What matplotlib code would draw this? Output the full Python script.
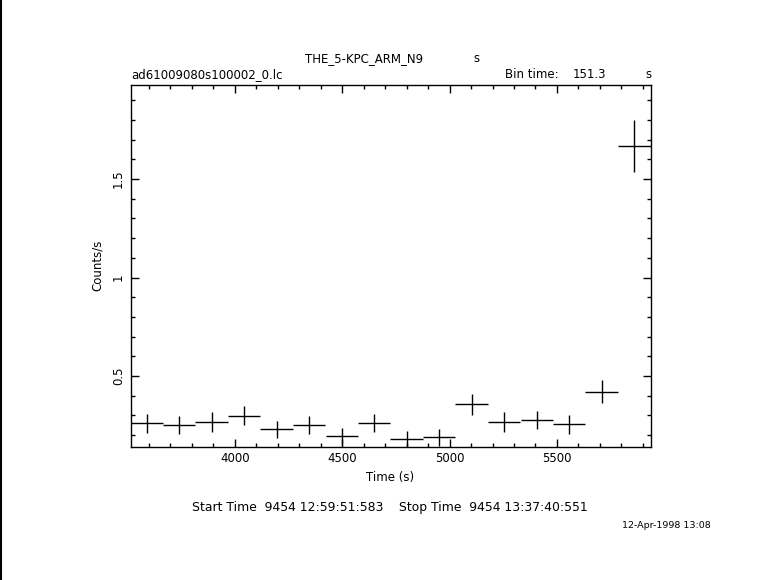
import matplotlib
matplotlib.use("Agg")
import matplotlib.pyplot as plt
from matplotlib.ticker import MultipleLocator
import numpy as np

# light curve bins
bin_time = 151.3
time = [3590, 3741, 3892, 4044, 4195, 4346, 4498, 4649,
        4800, 4952, 5103, 5254, 5406, 5557, 5708, 5860]
rate = [0.260, 0.251, 0.267, 0.299, 0.230, 0.251, 0.193, 0.260,
        0.179, 0.188, 0.356, 0.267, 0.276, 0.255, 0.421, 1.670]
rate_err = [0.048, 0.045, 0.049, 0.047, 0.043, 0.046, 0.043, 0.046,
            0.041, 0.044, 0.054, 0.049, 0.047, 0.049, 0.057, 0.132]

xticks = [4000, 4500, 5000, 5500]
yticks = [0.5, 1.0, 1.5]
ytick_labels = ["0.5", "1", "1.5"]

W, H = 781, 580
fig = plt.figure(figsize=(W / 100, H / 100), dpi=100)

# axes box in pixels: left 130.5, right 650, top 84.5, bottom 446.7
l, r, t, b = 130.5, 650.5, 84.5, 446.7
ax = fig.add_axes([l / W, 1 - b / H, (r - l) / W, (b - t) / H])

half = bin_time / 2
ax.errorbar(time, rate, xerr=half, yerr=rate_err, fmt='none',
            ecolor='black', elinewidth=1.0, capsize=0)

ax.set_xlim(time[0] - half, time[-1] + half)
ax.set_ylim(0.141, 1.98)

ax.set_xticks(xticks)
ax.xaxis.set_minor_locator(MultipleLocator(100))
ax.set_yticks(yticks)
ax.set_yticklabels(ytick_labels, rotation=90, va='center')
ax.yaxis.set_minor_locator(MultipleLocator(0.1))
ax.tick_params(which='both', direction='in', top=True, right=True,
               width=1.0, labelsize=8.5)
ax.tick_params(which='major', length=6, pad=4)
ax.tick_params(which='minor', length=3)
for s in ax.spines.values():
    s.set_linewidth(1.0)

ax.set_xlabel("Time (s)", fontsize=8.5, labelpad=4)
ax.set_ylabel("Counts/s", fontsize=8.5, labelpad=6)

fs = 8.5
def px(x, y):
    return x / W, 1 - y / H

fig.text(*px(364, 59), "THE_5-KPC_ARM_N9", fontsize=fs, ha='center', va='center')
fig.text(*px(476, 59), "s", fontsize=fs, ha='center', va='center')
fig.text(*px(131, 75), "ad61009080s100002_0.lc", fontsize=fs, ha='left', va='center')
fig.text(*px(505, 75), "Bin time:", fontsize=fs, ha='left', va='center')
fig.text(*px(589, 75), "151.3", fontsize=fs, ha='center', va='center')
fig.text(*px(648, 75), "s", fontsize=fs, ha='center', va='center')
fig.text(*px(390, 508), "Start Time  9454 12:59:51:583    Stop Time  9454 13:37:40:551",
         fontsize=8.9, ha='center', va='center')
fig.text(*px(666, 526), "12-Apr-1998 13:08", fontsize=6.8, ha='center', va='center')

# black line along the left border
fig.add_artist(plt.Line2D([0.5 / W, 0.5 / W], [0, 1], color='black', lw=1.5,
                          transform=fig.transFigure))

fig.savefig("out.png", dpi=100)
